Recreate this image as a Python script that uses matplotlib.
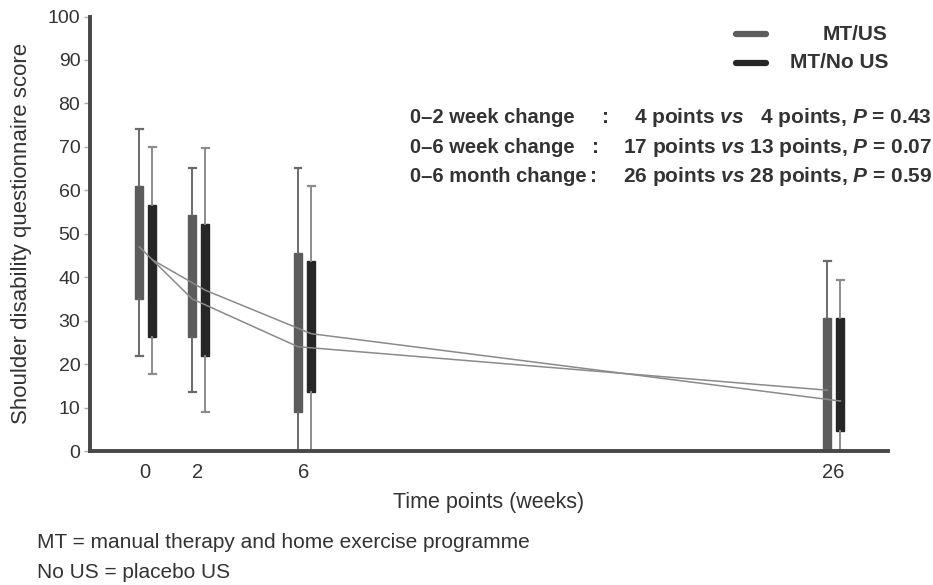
import matplotlib
matplotlib.use("Agg")
import matplotlib.pyplot as plt
from matplotlib.lines import Line2D

plt.rcParams.update({
    "font.family": ["Liberation Sans", "DejaVu Sans"],
    "font.size": 12,
    "mathtext.fontset": "custom",
    "mathtext.it": "Liberation Sans:bold:italic",
    "mathtext.rm": "Liberation Sans:bold",
    "mathtext.bf": "Liberation Sans:bold",
})

# ---------- data ----------
weeks = [0, 2, 6, 26]
tick_labels = ["0", "2", "6", "26"]

us_whishi = [74, 65.2, 65.2, 43.7]
us_q3 = [61, 54.4, 45.6, 30.5]
us_q1 = [35, 26.2, 9, 0]
us_whislo = [21.9, 13.6, 0, 0]

nous_whishi = [70, 69.7, 61, 39.4]
nous_q3 = [56.6, 52.2, 43.7, 30.5]
nous_q1 = [26.2, 21.9, 13.6, 4.7]
nous_whislo = [17.7, 9, 0, 0]

us_mean = [47, 35, 24, 14]
nous_mean = [44, 37, 27, 11.5]

group_labels = ["MT/US", "MT/No US"]
change_labels = ["0–2 week change", "0–6 week change", "0–6 month change"]
change_text = [
    r"4 points $\it{vs}$   4 points, $\it{P}$ = 0.43",
    r"17 points $\it{vs}$ 13 points, $\it{P}$ = 0.07",
    r"26 points $\it{vs}$ 28 points, $\it{P}$ = 0.59",
]
footnotes = ["MT = manual therapy and home exercise programme",
             "No US = placebo US"]

# ---------- styling ----------
c_us = "#5c5c5c"
c_nous = "#262626"
c_whisk_us = "#6a6a6a"
c_whisk_nous = "#8c8c8c"
txt = "#333333"
off_us, off_nous = -0.22, 0.28
bw = 0.3

fig = plt.figure(figsize=(9.33, 5.85), dpi=100)
ax = fig.add_axes([90 / 933, 1 - 451 / 585, 798 / 933, 434.5 / 585])


def stats(lo, q1, q3, hi):
    return [dict(med=(a + b) / 2, q1=a, q3=b, whislo=l, whishi=h)
            for l, a, b, h in zip(lo, q1, q3, hi)]


for st, o, fc, wc in [
    (stats(us_whislo, us_q1, us_q3, us_whishi), off_us, c_us, c_whisk_us),
    (stats(nous_whislo, nous_q1, nous_q3, nous_whishi), off_nous, c_nous, c_whisk_nous),
]:
    ax.bxp(st, positions=[w + o for w in weeks], widths=bw,
           showfliers=False, patch_artist=True,
           boxprops=dict(facecolor=fc, edgecolor=fc, linewidth=1),
           whiskerprops=dict(color=wc, linewidth=1.4),
           capprops=dict(color=wc, linewidth=1.6),
           medianprops=dict(visible=False),
           capwidths=0.26, zorder=2)

ax.plot([w + off_us for w in weeks], us_mean, color="#8a8a8a", lw=1.1, zorder=3)
ax.plot([w + off_nous for w in weeks], nous_mean, color="#8a8a8a", lw=1.1, zorder=3)

ax.set_xlim(-2.08, 28.08)
ax.set_ylim(0, 100)
ax.set_xticks(weeks)
ax.set_xticklabels(tick_labels)
ax.set_yticks(range(0, 101, 10))
ax.tick_params(axis="x", length=0, pad=9, labelsize=14.5, labelcolor=txt)
ax.tick_params(axis="y", length=4, width=1, color="#aaaaaa", pad=3,
               labelsize=14, labelcolor=txt)
for s in ["top", "right"]:
    ax.spines[s].set_visible(False)
for s in ["left", "bottom"]:
    ax.spines[s].set_linewidth(2.8)
    ax.spines[s].set_color("#474747")

ax.set_xlabel("Time points (weeks)", fontsize=15.5, color=txt, labelpad=7)
ax.set_ylabel("Shoulder disability questionnaire score", fontsize=16,
              color=txt, labelpad=11)

# legend (handles on the left, labels right-aligned)
for y_px, col, lab in zip([34, 63], [c_us, c_nous], group_labels):
    yf = 1 - y_px / 585
    fig.add_artist(Line2D([736 / 933, 766 / 933], [yf, yf], color=col, lw=4.5,
                          solid_capstyle="round", transform=fig.transFigure))
    fig.text(888 / 933, yf, lab, ha="right", va="center", fontsize=15,
             weight="bold", color=txt)

# change annotations
colon_x = [605, 596, 593]
for i, (lab, rest) in enumerate(zip(change_labels, change_text)):
    y = 1 - (118 + 29.5 * i) / 585
    fig.text(410 / 933, y, lab, ha="left", va="center", fontsize=14.5,
             weight="bold", color=txt)
    fig.text(colon_x[i] / 933, y, ":", ha="center", va="center", fontsize=15,
             weight="bold", color=txt)
    fig.text(932 / 933, y, rest, ha="right", va="center", fontsize=15,
             weight="bold", color=txt)

# footnotes
for y_px, note in zip([542, 572], footnotes):
    fig.text(37 / 933, 1 - y_px / 585, note, ha="left", va="center",
             fontsize=15, color=txt)

fig.savefig("out.png", dpi=100)
